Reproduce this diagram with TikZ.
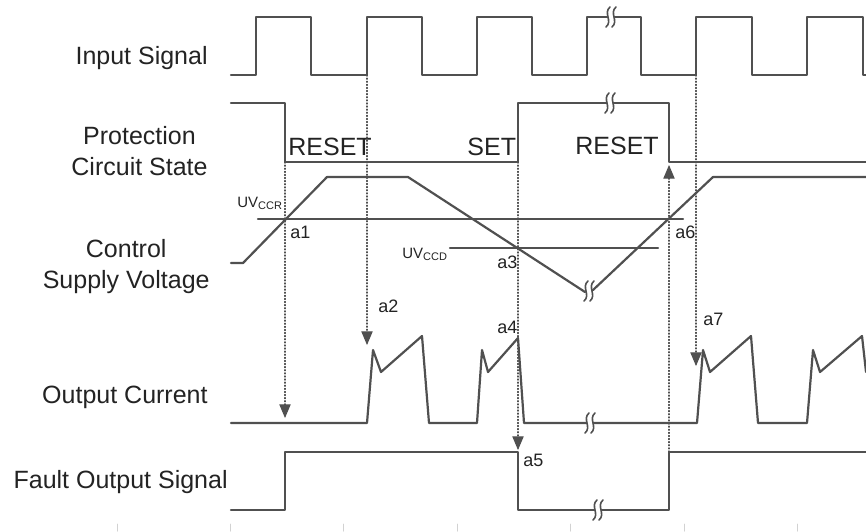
\documentclass[tikz,border=0pt]{standalone}
\usepackage{fontspec}
\setmainfont{Liberation Sans}
\usetikzlibrary{arrows}
\definecolor{wave}{RGB}{80,80,80}
\definecolor{ink}{RGB}{35,35,35}

\begin{document}
\begin{tikzpicture}[line cap=round,line join=round,>=triangle 45,x=0.5pt,y=-0.5pt,
  sig/.style={line width=1.1pt,color=wave},
  guide/.style={densely dotted,line width=0.55pt,color=wave,->},
  lbl/.style={inner sep=0pt,anchor=base east,align=center,text=ink,font=\fontsize{12.5}{15.5}\selectfont},
  statetxt/.style={inner sep=0pt,anchor=base west,text=ink,font=\fontsize{12.5}{15}\selectfont},
  evt/.style={inner sep=0pt,anchor=base west,text=ink,font=\fontsize{9}{11}\selectfont},
  lvl/.style={inner sep=0pt,anchor=base west,text=ink,font=\fontsize{7.5}{9}\selectfont}]
\useasboundingbox (0,0) rectangle (866,531);
% signal names
\node [lbl] (nin) at (208,64) {Input Signal};
\node [lbl] (nprot) at (208,175) {Protection\\Circuit State};
\node [lbl] (nvcc) at (210,288) {Control\\Supply Voltage};
\node [lbl] (nout) at (208,403) {Output Current};
\node [lbl] (nfo) at (228,488) {Fault Output Signal};
% input signal
\draw [sig] (231,75)-- (256,75)-- (256,17)-- (311,17)-- (311,75)-- (367,75)-- (367,17)-- (422,17)-- (422,75)-- (477,75)-- (477,17)-- (532,17)-- (532,75)-- (587,75)-- (587,17)-- (641,17)-- (641,75)-- (696,75)-- (696,17)-- (752,17)-- (752,75)-- (807,75)-- (807,17)-- (863,17)-- (863,75)-- (866,75);
% protection circuit state
\draw [sig] (231,103)-- (285,103)-- (285,162)-- (518,162)-- (518,103)-- (669,103)-- (669,162)-- (866,162);
\node [statetxt] (rst1) at (288,155) {RESET};
\node [statetxt] (set) at (467,155) {SET};
\node [statetxt] (rst2) at (575,154) {RESET};
% control supply voltage
\draw [sig] (231,263)-- (243,263)-- (327,177)-- (408,177)-- (585,292);
\draw [sig] (593,290)-- (713,177)-- (866,177);
\draw [sig] (258,219)-- (683,219);
\draw [sig] (450,248)-- (658,248);
\node [lvl] (uvccr) at (237,207) {UV\raisebox{-0.35ex}{\fontsize{5.5}{6}\selectfont CCR}};
\node [lvl] (uvccd) at (402,258) {UV\raisebox{-0.35ex}{\fontsize{5.5}{6}\selectfont CCD}};
% output current
\draw [sig] (231,423)-- (367,423)-- (373,350)-- (381,372)-- (422,336)-- (429,423)-- (477,423)-- (482,350)-- (488,372)-- (518,338)-- (524,423)-- (697,423)-- (703,350)-- (710,372)-- (751,336)-- (758,423)-- (807,423)-- (813,350)-- (820,372)-- (862,336)-- (866,372);
% fault output signal
\draw [sig] (231,510)-- (285,510)-- (285,452)-- (518,452)-- (518,510)-- (669,510)-- (669,452)-- (866,452);
% breaks
\foreach \bx/\by in {611/17,610/103,589/291,590/423,598/510}{
  \fill [white] ({\bx-3},{\by-3}) rectangle ({\bx+3},{\by+3});
  \draw [wave,line width=0.8pt] ({\bx-1},{\by-10}) .. controls ({\bx-8},{\by-4}) and ({\bx+2},{\by+4}) .. ({\bx-5},{\by+10});
  \draw [wave,line width=0.8pt] ({\bx+5},{\by-10}) .. controls ({\bx-2},{\by-4}) and ({\bx+8},{\by+4}) .. ({\bx+1},{\by+10});
}
% event guides
\coordinate (p1) at (285,162);
\coordinate (c1) at (285,418);
\coordinate (in2) at (367,75);
\coordinate (c2) at (367,345);
\coordinate (p3) at (518,162);
\coordinate (f5) at (518,450);
\coordinate (f6) at (669,452);
\coordinate (p6) at (669,165);
\coordinate (in7) at (696,75);
\coordinate (c7) at (696,366);
\draw [guide] (p1)-- (c1);
\draw [guide] (in2)-- (c2);
\draw [guide] (p3)-- (f5);
\draw [guide] (f6)-- (p6);
\draw [guide] (in7)-- (c7);
\node [evt] (ea1) at (290,238) {a1};
\node [evt] (ea2) at (378,312) {a2};
\node [evt] (ea3) at (497,268) {a3};
\node [evt] (ea4) at (497,333) {a4};
\node [evt] (ea5) at (523,466) {a5};
\node [evt] (ea6) at (675,238) {a6};
\node [evt] (ea7) at (703,325) {a7};
% scale ticks
\foreach \tx in {117,230,343,457,570,684,797}
  \draw [gray!35,line width=0.5pt] (\tx,524)-- (\tx,531);
\end{tikzpicture}
\end{document}
